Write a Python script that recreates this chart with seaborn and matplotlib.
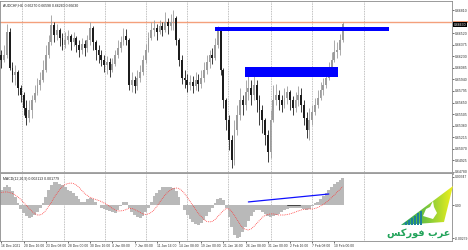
import numpy as np
import matplotlib
matplotlib.use("Agg")
import matplotlib.pyplot as plt
import matplotlib.transforms as mtransforms
from matplotlib.patches import Rectangle, Polygon
import seaborn as sns

# ---------------- data ----------------
title_text = "AUDCHF,H4  0.66270 0.66598 0.66260 0.66630"
macd_text = "MACD(12,26,9) 0.002113 0.001779"
first_open = 0.6625
closes = [0.6618, 0.6625, 0.6653, 0.6608, 0.6600, 0.6603, 0.6583, 0.6575, 0.6558, 0.6546,
          0.6556, 0.6568, 0.6577, 0.6587, 0.6593, 0.6606, 0.6625, 0.6641, 0.6662, 0.6650,
          0.6656, 0.6646, 0.6637, 0.6643, 0.6648, 0.6641, 0.6646, 0.6637, 0.6631, 0.6638,
          0.6633, 0.6643, 0.6658, 0.6641, 0.6631, 0.6625, 0.6618, 0.6612, 0.6616, 0.6606,
          0.6613, 0.6625, 0.6633, 0.6641, 0.6648, 0.6643, 0.6587, 0.6593, 0.6586, 0.6596,
          0.6603, 0.6618, 0.6631, 0.6646, 0.6656, 0.6658, 0.6653, 0.6661, 0.6656, 0.6666,
          0.6661, 0.6666, 0.6671, 0.6643, 0.6618, 0.6596, 0.6593, 0.6587, 0.6591, 0.6586,
          0.6593, 0.6588, 0.6596, 0.6606, 0.6616, 0.6625, 0.6621, 0.6637, 0.6656, 0.6606,
          0.6568, 0.6543, 0.6518, 0.6493, 0.6531, 0.6550, 0.6568, 0.6562, 0.6578, 0.6583,
          0.6575, 0.6587, 0.6568, 0.6556, 0.6543, 0.6524, 0.6503, 0.6543, 0.6568, 0.6575,
          0.6568, 0.6562, 0.6571, 0.6578, 0.6568, 0.6558, 0.6568, 0.6575, 0.6562, 0.6546,
          0.6531, 0.6543, 0.6553, 0.6562, 0.6571, 0.6581, 0.6587, 0.6596, 0.6608, 0.6618,
          0.6628, 0.6631, 0.6643, 0.6663]
highs = [0.6631, 0.6637, 0.6663, 0.6658, 0.6616, 0.6612, 0.6606, 0.6587, 0.6578, 0.6568,
         0.6568, 0.6575, 0.6587, 0.6596, 0.6603, 0.6618, 0.6637, 0.6650, 0.6675, 0.6666,
         0.6663, 0.6658, 0.6652, 0.6653, 0.6656, 0.6651, 0.6653, 0.6648, 0.6643, 0.6646,
         0.6643, 0.6650, 0.6666, 0.6661, 0.6643, 0.6637, 0.6631, 0.6625, 0.6623, 0.6621,
         0.6621, 0.6631, 0.6643, 0.6648, 0.6658, 0.6657, 0.6646, 0.6603, 0.6598, 0.6606,
         0.6612, 0.6625, 0.6638, 0.6653, 0.6666, 0.6668, 0.6663, 0.6668, 0.6666, 0.6678,
         0.6671, 0.6676, 0.6681, 0.6673, 0.6646, 0.6625, 0.6606, 0.6601, 0.6600, 0.6598,
         0.6603, 0.6601, 0.6606, 0.6616, 0.6625, 0.6631, 0.6633, 0.6646, 0.6661, 0.6653,
         0.6608, 0.6571, 0.6550, 0.6524, 0.6543, 0.6562, 0.6583, 0.6575, 0.6593, 0.6603,
         0.6593, 0.6601, 0.6593, 0.6575, 0.6562, 0.6546, 0.6531, 0.6556, 0.6587, 0.6588,
         0.6581, 0.6575, 0.6583, 0.6586, 0.6581, 0.6573, 0.6578, 0.6586, 0.6583, 0.6568,
         0.6553, 0.6558, 0.6562, 0.6571, 0.6581, 0.6591, 0.6596, 0.6606, 0.6616, 0.6628,
         0.6643, 0.6641, 0.6651, 0.6666]
lows = [0.6608, 0.6616, 0.6621, 0.6606, 0.6591, 0.6587, 0.6575, 0.6566, 0.6550, 0.6537,
        0.6541, 0.6546, 0.6566, 0.6575, 0.6581, 0.6591, 0.6603, 0.6621, 0.6637, 0.6641,
        0.6643, 0.6636, 0.6631, 0.6633, 0.6638, 0.6631, 0.6636, 0.6628, 0.6622, 0.6626,
        0.6623, 0.6628, 0.6637, 0.6631, 0.6618, 0.6615, 0.6611, 0.6603, 0.6601, 0.6597,
        0.6603, 0.6611, 0.6621, 0.6628, 0.6637, 0.6637, 0.6581, 0.6578, 0.6577, 0.6581,
        0.6591, 0.6600, 0.6615, 0.6628, 0.6643, 0.6648, 0.6643, 0.6651, 0.6648, 0.6653,
        0.6651, 0.6656, 0.6656, 0.6637, 0.6611, 0.6588, 0.6583, 0.6578, 0.6581, 0.6577,
        0.6581, 0.6580, 0.6583, 0.6591, 0.6601, 0.6608, 0.6613, 0.6618, 0.6633, 0.6600,
        0.6558, 0.6531, 0.6506, 0.6483, 0.6487, 0.6524, 0.6543, 0.6550, 0.6556, 0.6568,
        0.6562, 0.6568, 0.6553, 0.6537, 0.6527, 0.6512, 0.6491, 0.6496, 0.6541, 0.6562,
        0.6556, 0.6553, 0.6558, 0.6563, 0.6556, 0.6550, 0.6553, 0.6561, 0.6553, 0.6537,
        0.6521, 0.6518, 0.6537, 0.6550, 0.6558, 0.6568, 0.6575, 0.6583, 0.6593, 0.6603,
        0.6616, 0.6621, 0.6625, 0.6641]

macd_main = [0.00140, 0.00168, 0.00187, 0.00177, 0.00131, 0.00075, 0.00019, -0.00037, -0.00075, -0.00103,
             -0.00117, -0.00112, -0.00093, -0.00065, -0.00028, 0.00019, 0.00075, 0.00140, 0.00187, 0.00219,
             0.00215, 0.00205, 0.00187, 0.00168, 0.00149, 0.00131, 0.00112, 0.00084, 0.00056, 0.00037,
             0.00037, 0.00056, 0.00070, 0.00056, 0.00028, 0.00000, -0.00019, -0.00037, -0.00047, -0.00056,
             -0.00065, -0.00070, -0.00047, -0.00009, 0.00028, 0.00037, -0.00019, -0.00065, -0.00093, -0.00112,
             -0.00117, -0.00103, -0.00065, -0.00019, 0.00037, 0.00084, 0.00121, 0.00149, 0.00168, 0.00177,
             0.00177, 0.00168, 0.00159, 0.00131, 0.00075, 0.00009, -0.00047, -0.00093, -0.00131, -0.00159,
             -0.00177, -0.00182, -0.00168, -0.00140, -0.00103, -0.00065, -0.00028, 0.00019, 0.00056, 0.00070,
             0.00047, -0.00019, -0.00112, -0.00205, -0.00280, -0.00304, -0.00290, -0.00252, -0.00205, -0.00149,
             -0.00103, -0.00065, -0.00047, -0.00047, -0.00065, -0.00084, -0.00103, -0.00107, -0.00103, -0.00093,
             -0.00084, -0.00065, -0.00047, -0.00037, -0.00028, -0.00028, -0.00028, -0.00023, -0.00028, -0.00037,
             -0.00042, -0.00037, -0.00009, 0.00019, 0.00037, 0.00065, 0.00093, 0.00121, 0.00149, 0.00177,
             0.00196, 0.00215, 0.00234, 0.00252]
macd_signal = [0.00121, 0.00126, 0.00126, 0.00121, 0.00112, 0.00098, 0.00079, 0.00056, 0.00028, 0.00000,
               -0.00028, -0.00056, -0.00075, -0.00089, -0.00089, -0.00075, -0.00047, -0.00009, 0.00028, 0.00075,
               0.00112, 0.00149, 0.00177, 0.00196, 0.00205, 0.00210, 0.00205, 0.00191, 0.00168, 0.00140,
               0.00112, 0.00093, 0.00075, 0.00065, 0.00056, 0.00047, 0.00037, 0.00023, 0.00009, -0.00009,
               -0.00028, -0.00042, -0.00051, -0.00051, -0.00047, -0.00037, -0.00028, -0.00028, -0.00037, -0.00051,
               -0.00065, -0.00079, -0.00084, -0.00079, -0.00065, -0.00042, -0.00009, 0.00028, 0.00065, 0.00098,
               0.00126, 0.00145, 0.00159, 0.00163, 0.00159, 0.00140, 0.00112, 0.00075, 0.00037, 0.00000,
               -0.00037, -0.00075, -0.00103, -0.00131, -0.00149, -0.00154, -0.00149, -0.00131, -0.00103, -0.00075,
               -0.00047, -0.00028, -0.00033, -0.00056, -0.00093, -0.00135, -0.00177, -0.00210, -0.00224, -0.00229,
               -0.00219, -0.00196, -0.00168, -0.00140, -0.00112, -0.00093, -0.00084, -0.00079, -0.00079, -0.00084,
               -0.00089, -0.00089, -0.00089, -0.00084, -0.00079, -0.00070, -0.00061, -0.00051, -0.00042, -0.00037,
               -0.00033, -0.00033, -0.00033, -0.00028, -0.00019, -0.00005, 0.00009, 0.00028, 0.00051, 0.00075,
               0.00098, 0.00126, 0.00149, 0.00177]

date_label_bars = [0, 8, 16, 24, 32, 40, 48, 56, 64, 72, 80, 88, 96, 104, 112, 120]
date_labels = ["16 Dec 2021", "20 Dec 16:00", "23 Dec 08:00", "28 Dec 00:00", "30 Dec 16:00",
               "4 Jan 08:00", "7 Jan 00:00", "11 Jan 16:00", "14 Jan 08:00", "19 Jan 00:00",
               "21 Jan 16:00", "26 Jan 08:00", "31 Jan 00:00", "2 Feb 16:00", "7 Feb 08:00",
               "10 Feb 00:00"]
week_grid_bars = [7.5, 22.5, 37.3, 52, 66.8, 81.8, 97, 112, 130.5]
price_ticks = [0.64780, 0.64925, 0.65070, 0.65215, 0.65360, 0.65505, 0.65650, 0.65795,
               0.65940, 0.66085, 0.66230, 0.66375, 0.66520, 0.66810]
price_tick_labels = ["0.64780", "0.64925", "0.65070", "0.65215", "0.65360", "0.65505",
                     "0.65650", "0.65795", "0.65940", "0.66085", "0.66230", "0.66375",
                     "0.66520", "0.66810"]
price_range = (0.64767, 0.66923)
macd_range = (-0.00332, 0.00294)
macd_ticks = [0.00268, 0.0, -0.00305]
macd_tick_labels = ["0.00347", "0.00", "-0.00279"]

resistance_level = 0.66656
zones = [  # start bar, end bar, low, high
    (76.8, 139.8, 0.66547, 0.66597),
    (87.9, 121.4, 0.65970, 0.66096),
]
macd_trend_bars = [89.0, 118.0]
macd_trend_vals = [0.00033, 0.00107]
macd_dash_bars = [103.0, 107.5]
macd_dash_vals = [0.00005, 0.00005]
logo_text = "\uFEB2\uFEDB\uFEAD\uFEEE\uFED3 \uFE8F\uFEAE\uFECB"  # عرب فوركس (shaped)

# ---------------- figure ----------------
sns.set_theme(style="white")
plt.rcParams['font.family'] = ['Liberation Sans', 'DejaVu Sans']
W, H = 468, 250
fig = plt.figure(figsize=(W / 100, H / 100), dpi=100)
fig.patch.set_facecolor("white")


def fbox(x0, y0, x1, y1):
    return [x0 / W, 1 - y1 / H, (x1 - x0) / W, (y1 - y0) / H]


ax = fig.add_axes(fbox(0, 1, 452, 173))
ax2 = fig.add_axes(fbox(0, 174, 452, 241), sharex=ax)
px_per_bar = 2.775
xlim = (-0.5, -0.5 + 452 / px_per_bar)

c = np.array(closes)
o = np.array([first_open] + closes[:-1])
hi = np.maximum(np.array(highs), np.maximum(o, c))
lo = np.minimum(np.array(lows), np.minimum(o, c))
idx = np.arange(len(c))
up = c >= o
bull, bear = "#9c9c9c", "#1c1c1c"
cols = np.where(up, bull, bear)

for a in (ax, ax2):
    for xb in week_grid_bars:
        a.axvline(xb, color="#9a9a9a", lw=0.5, ls=(0, (1.2, 1.2)), zorder=0)

ax.vlines(idx, lo, hi, colors=cols, lw=0.6, zorder=3)
ax.bar(idx, np.maximum(np.abs(c - o), 0.00002), bottom=np.minimum(o, c), width=0.66,
       color=cols, linewidth=0, zorder=4)

ax.axhline(resistance_level, color="#f4a07c", lw=1.0, zorder=2)
for (s, e, zl, zh) in zones:
    ax.add_patch(Rectangle((s, zl), e - s, zh - zl, facecolor="#0000ff", edgecolor="none", zorder=5))

ax.set_xlim(*xlim)
ax.set_ylim(*price_range)
ax.yaxis.tick_right()
ax.set_yticks(price_ticks)
ax.set_yticklabels(price_tick_labels)
ax.tick_params(axis="y", labelsize=2.5, length=1.5, width=0.5, pad=0.6, colors="#333333")
ax.tick_params(axis="x", bottom=False, labelbottom=False)
for sp in ("top", "left", "right"):
    ax.spines[sp].set_color("#8a8a8a")
    ax.spines[sp].set_linewidth(0.6)
ax.spines["bottom"].set_color("#9c9c9c")
ax.spines["bottom"].set_linewidth(2.0)
ax.text(0.006, 0.985, title_text, transform=ax.transAxes, fontsize=2.5, va="top",
        ha="left", color="#222222")
# price-line markers on the right scale
blend = mtransforms.blended_transform_factory(ax.transAxes, ax.transData)
ax.add_patch(Rectangle((1.002, resistance_level - 0.00010), 0.034, 0.00030, transform=blend,
                       facecolor="#f4a07c", edgecolor="none", clip_on=False, zorder=9))
ax.text(1.004, closes[-1] - 0.00005, f"{closes[-1]:.5f}", transform=blend, fontsize=2.5,
        va="center", ha="left", color="white",
        bbox=dict(facecolor="black", edgecolor="none", pad=0.5), zorder=11, clip_on=False)

# MACD panel
ax2.bar(idx, macd_main, width=1.0, color="#b9b9b9", linewidth=0, zorder=2)
sns.lineplot(x=idx, y=macd_signal, ax=ax2, color="#ff3b3b", lw=0.6,
             linestyle=(0, (1, 1.2)), zorder=4)
sns.lineplot(x=macd_trend_bars, y=macd_trend_vals, ax=ax2, color="#1010ff", lw=0.9, zorder=5)
sns.lineplot(x=macd_dash_bars, y=macd_dash_vals, ax=ax2, color="#303030", lw=0.6, zorder=5)
ax2.set_xlim(*xlim)
ax2.set_ylim(*macd_range)
ax2.yaxis.tick_right()
ax2.set_yticks(macd_ticks)
ax2.set_yticklabels(macd_tick_labels)
ax2.tick_params(axis="y", labelsize=2.4, length=1.5, width=0.5, pad=0.6, colors="#333333")
ax2.set_xticks(date_label_bars)
ax2.set_xticklabels(date_labels, ha="left")
ax2.tick_params(axis="x", labelsize=2.4, length=1.5, width=0.5, pad=1, colors="#333333",
                bottom=True)
ax2.set_xlabel("")
ax2.set_ylabel("")
for sp in ("top", "left", "right", "bottom"):
    ax2.spines[sp].set_color("#8a8a8a")
    ax2.spines[sp].set_linewidth(0.6)
ax2.spines["top"].set_visible(False)
ax2.text(0.006, 0.95, macd_text, transform=ax2.transAxes, fontsize=2.5, va="top",
         ha="left", color="#222222")

# logo (decorative watermark)
axl = fig.add_axes(fbox(383, 183, 460, 244))
axl.set_xlim(0, 77)
axl.set_ylim(61, 0)
axl.axis("off")
arrow = Polygon([(18, 42), (70, 3), (61, 39)], closed=True, facecolor="none", edgecolor="none")
axl.add_patch(arrow)
grad = np.linspace(0, 1, 200)[None, :]
gimg = axl.imshow(np.tile(grad, (60, 1)),
                  cmap=sns.blend_palette(["#1d9f5a", "#7cc83c", "#f4f21c"], as_cmap=True),
                  extent=(18, 71, 44, 2), aspect="auto", zorder=2)
gimg.set_clip_path(arrow)
ox = Polygon([(40, 33), (43, 26), (47, 24), (50, 18), (51, 24), (54, 30), (50, 36)],
             closed=True, facecolor="white", edgecolor="none", zorder=3)
axl.add_patch(ox)
for bx, bh in zip([22, 25, 28, 31, 34, 37], [3, 5, 7, 9, 12, 14]):
    axl.add_patch(Rectangle((bx, 42 - bh), 2, bh, facecolor="#1d7f9c", edgecolor="none", zorder=4))
axl.text(36, 50, logo_text, fontsize=7, color="#22a35a", ha="center", va="center",
         family=["DejaVu Sans"], fontweight="bold", zorder=4)

fig.savefig("out.png", dpi=100, facecolor="white")
